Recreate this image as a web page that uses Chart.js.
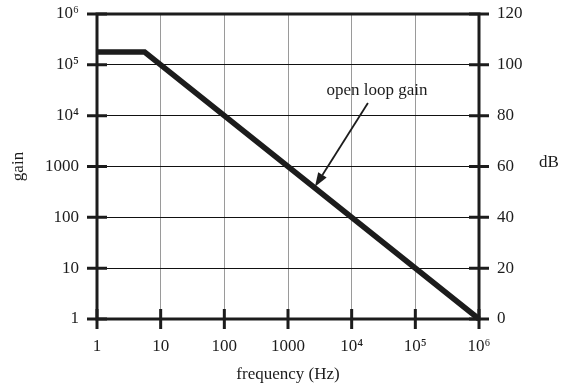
<!DOCTYPE html>
<html>
<head>
<meta charset="utf-8">
<script src="https://cdn.jsdelivr.net/npm/chart.js@4/dist/chart.umd.min.js"></script>
<style>
  html, body { margin: 0; padding: 0; background: #fff; }
  #wrap { width: 561px; height: 385px; position: relative; }
</style>
</head>
<body>
<div id="wrap"><canvas id="c"></canvas></div>
<script>
// ---- data ----
const freqHz = [1, 5.6, 1e6];
const openLoopGain = [1.78e5, 1.78e5, 1];

const xTickValues = [1, 10, 100, 1000, 1e4, 1e5, 1e6];
const xTickLabels = ["1", "10", "100", "1000", "10\u2074", "10\u2075", "10\u2076"];
const yTickValues = [1, 10, 100, 1000, 1e4, 1e5, 1e6];
const yTickLabels = ["1", "10", "100", "1000", "10\u2074", "10\u2075", "10\u2076"];
const dbTickValues = [0, 20, 40, 60, 80, 100, 120];

const annotationText = "open loop gain";
const annotationLabelAt = [25000, 30600];   // [freq, gain]
const annotationArrowFrom = [18000, 17800];
const annotationArrowTo = [2650, 400];

// ---- style ----
const FONT = "'Liberation Serif', 'Times New Roman', serif";
const FS = 17;
const INK = "#1c1c1c";

const framePlugin = {
  id: 'frame',
  afterDraw(chart) {
    const ctx = chart.ctx;
    const a = chart.chartArea;
    const xs = chart.scales.x, ys = chart.scales.y, y2 = chart.scales.y2;
    ctx.save();
    ctx.strokeStyle = INK;
    ctx.lineWidth = 3;
    ctx.lineCap = 'butt';
    ctx.strokeRect(a.left, a.top, a.right - a.left, a.bottom - a.top);
    const L = 10;
    ctx.beginPath();
    xTickValues.forEach(v => {
      const px = xs.getPixelForValue(v);
      ctx.moveTo(px, a.bottom - L); ctx.lineTo(px, a.bottom + L);
    });
    yTickValues.forEach(v => {
      const py = ys.getPixelForValue(v);
      ctx.moveTo(a.left - L, py); ctx.lineTo(a.left + L, py);
    });
    dbTickValues.forEach(v => {
      const py = y2.getPixelForValue(v);
      ctx.moveTo(a.right - L, py); ctx.lineTo(a.right + L, py);
    });
    ctx.stroke();

    ctx.fillStyle = INK;
    ctx.font = FS + "px " + FONT;
    ctx.textAlign = 'center';
    ctx.textBaseline = 'middle';
    ctx.fillText("dB", 549, (a.top + a.bottom) / 2 - 4);

    const lx = xs.getPixelForValue(annotationLabelAt[0]);
    const ly = ys.getPixelForValue(annotationLabelAt[1]);
    ctx.fillText(annotationText, lx, ly);
    const fx = xs.getPixelForValue(annotationArrowFrom[0]);
    const fy = ys.getPixelForValue(annotationArrowFrom[1]);
    const tx = xs.getPixelForValue(annotationArrowTo[0]);
    const ty = ys.getPixelForValue(annotationArrowTo[1]);
    const ang = Math.atan2(ty - fy, tx - fx);
    const hl = 14, hw = 5;
    const bx = tx - hl * Math.cos(ang), by = ty - hl * Math.sin(ang);
    ctx.lineWidth = 1.8;
    ctx.beginPath();
    ctx.moveTo(fx, fy); ctx.lineTo(bx, by);
    ctx.stroke();
    ctx.beginPath();
    ctx.moveTo(tx, ty);
    ctx.lineTo(bx + hw * Math.sin(ang), by - hw * Math.cos(ang));
    ctx.lineTo(bx - hw * Math.sin(ang), by + hw * Math.cos(ang));
    ctx.closePath();
    ctx.fill();
    ctx.restore();
  }
};

const bgPlugin = {
  id: 'bg',
  beforeDraw(chart) {
    const ctx = chart.ctx;
    ctx.save();
    ctx.fillStyle = '#fff';
    ctx.fillRect(0, 0, chart.width, chart.height);
    ctx.restore();
  }
};

function noPadV(s) { s.paddingTop = 0; s.paddingBottom = 0; }
function noPadH(s) { s.paddingLeft = 0; s.paddingRight = 0; }

new Chart(document.getElementById('c'), {
  type: 'line',
  data: {
    datasets: [{
      data: freqHz.map((f, i) => ({ x: f, y: openLoopGain[i] })),
      borderColor: INK,
      borderWidth: 5.5,
      pointRadius: 0,
      tension: 0,
      fill: false,
      yAxisID: 'y',
      borderJoinStyle: 'miter',
      clip: 6
    }]
  },
  options: {
    responsive: true,
    maintainAspectRatio: false,
    animation: false,
    devicePixelRatio: 1,
    layout: { padding: { top: 14, left: 0, right: 0, bottom: 0 } },
    plugins: { legend: { display: false }, tooltip: { enabled: false } },
    scales: {
      x: {
        type: 'logarithmic',
        position: 'bottom',
        min: 1, max: 1e6,
        afterBuildTicks: s => { s.ticks = xTickValues.map(v => ({ value: v })); },
        afterFit: s => { s.height = 66; noPadH(s); },
        ticks: {
          color: INK,
          font: { family: FONT, size: FS },
          padding: 17,
          maxRotation: 0,
          autoSkip: false,
          callback: (v, i) => xTickLabels[i]
        },
        grid: { color: '#9a9a9a', lineWidth: 1, drawTicks: false },
        border: { display: false },
        title: {
          display: true, text: 'frequency (Hz)', color: INK,
          font: { family: FONT, size: FS }, padding: { top: 0, bottom: 0 }
        }
      },
      y: {
        type: 'logarithmic',
        position: 'left',
        min: 1, max: 1e6,
        afterBuildTicks: s => { s.ticks = yTickValues.map(v => ({ value: v })); },
        afterFit: s => { s.width = 97; noPadV(s); },
        ticks: {
          color: INK,
          font: { family: FONT, size: FS },
          padding: 18,
          autoSkip: false,
          callback: (v, i) => yTickLabels[i]
        },
        grid: { color: '#111', lineWidth: 1, drawTicks: false },
        border: { display: false },
        title: {
          display: true, text: 'gain', color: INK,
          font: { family: FONT, size: FS }, padding: { top: 8, bottom: 0 }
        }
      },
      y2: {
        type: 'linear',
        position: 'right',
        min: 0, max: 120,
        afterBuildTicks: s => { s.ticks = dbTickValues.map(v => ({ value: v })); },
        afterFit: s => { s.width = 82; noPadV(s); },
        ticks: {
          color: INK,
          font: { family: FONT, size: FS },
          padding: 18,
          autoSkip: false
        },
        grid: { display: false, drawTicks: false },
        border: { display: false }
      }
    }
  },
  plugins: [bgPlugin, framePlugin]
});
</script>
</body>
</html>
